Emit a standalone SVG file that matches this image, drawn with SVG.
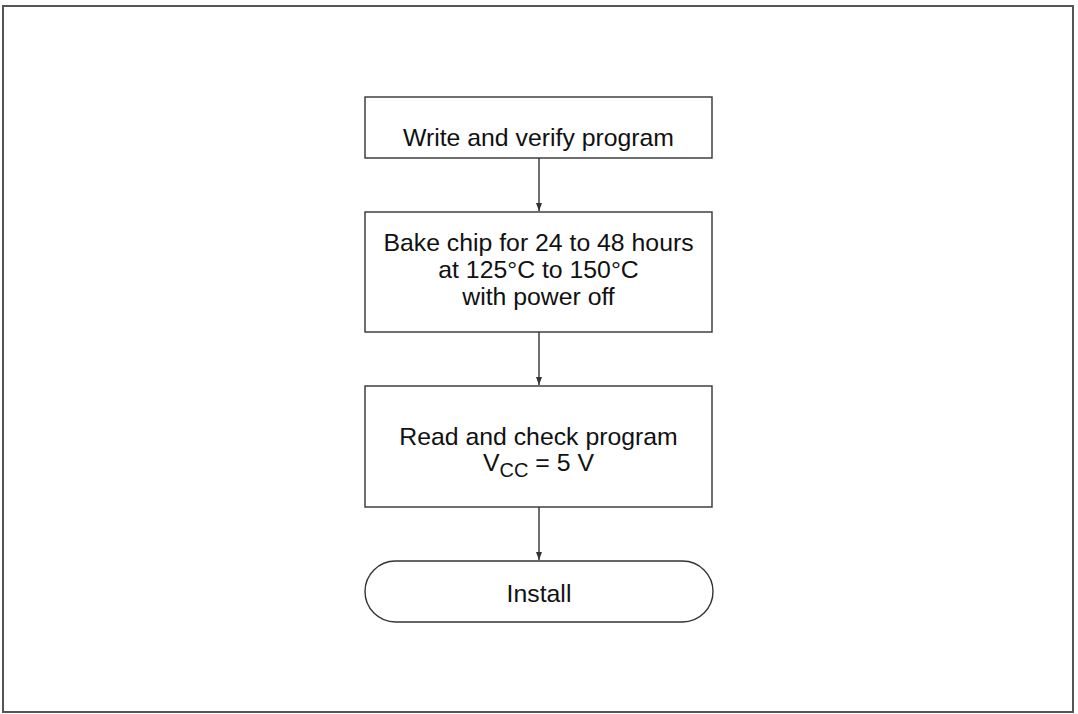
<svg xmlns="http://www.w3.org/2000/svg" width="1078" height="714" viewBox="0 0 1078 714">
<style>
.frame{fill:#fff;stroke:#555;stroke-width:2}
.box{fill:#fff;stroke:#333;stroke-width:1.4}
.t{font-family:"Liberation Sans",Arial,sans-serif;font-size:24.8px;fill:#111;text-anchor:middle}
.c{stroke:#333;stroke-width:1.4;fill:none;marker-end:url(#ah)}
</style>
<defs>
<marker id="ah" markerWidth="8" markerHeight="12" refX="8" refY="4" orient="auto" markerUnits="userSpaceOnUse" viewBox="0 0 8 8">
<path d="M0,1 L8,4 L0,7 Z" fill="#333"/>
</marker>
</defs>
<rect class="frame" x="3" y="6" width="1070" height="706"/>
<g id="n1">
<rect class="box" x="365" y="97" width="347" height="61"/>
<text class="t" x="538.5" y="145.5">Write and verify program</text>
</g>
<g id="n2">
<rect class="box" x="365" y="212" width="347" height="120"/>
<text class="t" x="538.5" y="251">Bake chip for 24 to 48 hours</text>
<text class="t" x="538.5" y="278">at 125°C to 150°C</text>
<text class="t" x="538.5" y="305">with power off</text>
</g>
<g id="n3">
<rect class="box" x="365" y="386" width="347" height="121"/>
<text class="t" x="538.5" y="445">Read and check program</text>
<text class="t" x="538.5" y="471">V<tspan font-size="20" dy="6">CC</tspan><tspan dy="-6"> = 5 V</tspan></text>
</g>
<g id="n4">
<rect class="box" x="365" y="561" width="348" height="61" rx="30.5" ry="30.5"/>
<text class="t" x="539" y="602">Install</text>
</g>
<g id="connectors">
<line class="c" x1="539" y1="158" x2="539" y2="211"/>
<line class="c" x1="539" y1="332" x2="539" y2="385"/>
<line class="c" x1="539" y1="507" x2="539" y2="560"/>
</g>
</svg>
